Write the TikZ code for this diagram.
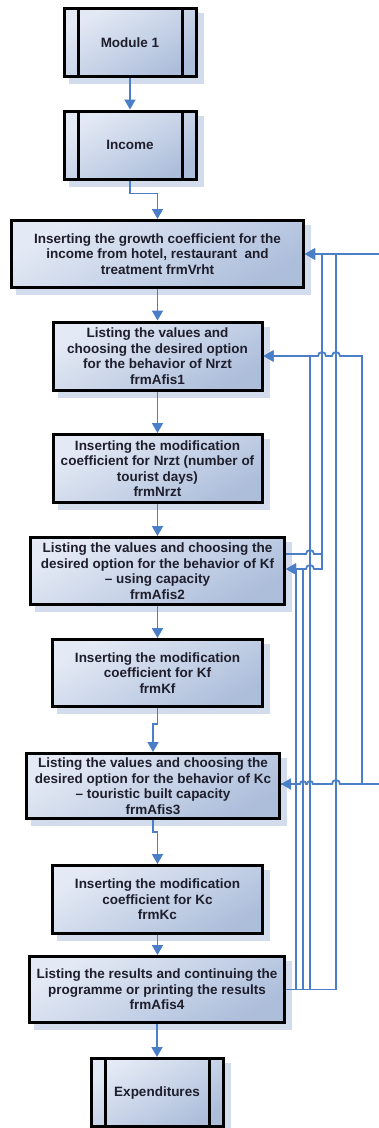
\documentclass[tikz,border=0pt]{standalone}
\usepackage{fontspec}
\setmainfont{Liberation Sans}
\usetikzlibrary{arrows.meta,backgrounds,calc}
\definecolor{lnc}{HTML}{4A7EC6}
\definecolor{shc}{HTML}{D3DCEC}
\definecolor{bxa}{HTML}{E4EAF5}
\definecolor{bxb}{HTML}{ADBEDB}
\definecolor{txc}{HTML}{1E1E2C}
\begin{document}
\begin{tikzpicture}[x=1pt,y=-1pt,
  stepbox/.style={draw=black, line width=3pt, top color=bxa, bottom color=bxb, shading angle=30,
    align=center, inner sep=0pt, text=txc, font=\fontsize{13.5}{15.5}\selectfont\bfseries},
  procbox/.style={stepbox, minimum width=132pt, minimum height=68pt,
    path picture={\draw[line width=3pt]
      ([xshift=14pt]path picture bounding box.north west) -- ([xshift=14pt]path picture bounding box.south west)
      ([xshift=-14pt]path picture bounding box.north east) -- ([xshift=-14pt]path picture bounding box.south east);}},
  shadowbox/.style={fill=shc},
  conn/.style={draw=lnc, line width=1.8pt},
  arr/.style={conn, -{Triangle[length=10pt,width=11pt]}}
]
\useasboundingbox (0,0) rectangle (379,1128);

\node[procbox] (m1) at (130,42.5) {Module 1};
\node[procbox] (inc) at (130,145) {Income};
\node[stepbox, minimum width=292pt, minimum height=67pt] (b3) at (157.5,254)
  {Inserting the growth coefficient for the\\income from hotel, restaurant~ and\\treatment frmVrht};
\node[stepbox, minimum width=209pt, minimum height=68pt] (b4) at (157.5,356)
  {Listing the values and\\choosing the desired option\\for the behavior of Nrzt\\frmAfis1};
\node[stepbox, minimum width=209pt, minimum height=68pt] (b5) at (157.5,468.5)
  {Inserting the modification\\coefficient for Nrzt (number of\\tourist days)\\frmNrzt};
\node[stepbox, minimum width=254pt, minimum height=67pt] (b6) at (157.5,571)
  {Listing the values and choosing the\\desired option for the behavior of Kf\\– using capacity\\frmAfis2};
\node[stepbox, minimum width=210pt, minimum height=67pt] (b7) at (157.5,673)
  {Inserting the modification\\coefficient for Kf\\frmKf};
\node[stepbox, minimum width=253pt, minimum height=65pt] (b8) at (153,786)
  {Listing the values and choosing the\\desired option for the behavior of Kc\\– touristic built capacity\\frmAfis3};
\node[stepbox, minimum width=210pt, minimum height=68pt] (b9) at (157.5,899.5)
  {Inserting the modification\\coefficient for Kc\\frmKc};
\node[stepbox, minimum width=255pt, minimum height=66pt] (b10) at (157,989.5)
  {Listing the results and continuing the\\programme or printing the results\\frmAfis4};
\node[procbox] (exp) at (157,1092.5) {Expenditures};

\begin{scope}[on background layer]
\foreach \n in {m1,inc,b3,b4,b5,b6,b7,b8,b9,b10,exp}
  \fill[shadowbox] ([shift={(6pt,-6pt)}]\n.south west) rectangle ([shift={(6pt,-6pt)}]\n.north east);
\end{scope}

% main flow
\draw[arr] (m1) -- (inc);
\draw[arr] (inc.south) -- ++(0,13) -| (b3.north);
\draw[arr] (b3.south) -- (b3.south |- b4.north);
\draw[arr] (b4.south) -- (b4.south |- b5.north);
\draw[arr] (b5.south) -- (b5.south |- b6.north);
\draw[arr] (b6.south) -- (b6.south |- b7.north);
\draw[arr] (b7.south) -- ++(0,16) -| (b8.north);
\draw[arr] (b8.south) -- ++(0,12) -| (b9.north);
\draw[arr] (b9.south) -- (b9.south |- b10.north);
\draw[arr] (b10.south) -- (b10.south |- exp.north);

% feedback connectors
\coordinate (j4) at (362,784);
\coordinate (j1) at (322,554);
\draw[arr] ([yshift=2pt]b8.east) -- (300,784) arc[start angle=180,end angle=0,radius=3pt]
  -- (307,784) arc[start angle=180,end angle=0,radius=3pt]
  -- (332,784) arc[start angle=180,end angle=0,radius=4pt]
  -- (382,784) -- (382,254) -- (b3.east);
\draw[arr] (j4) -- (362,356) -- (340,356) arc[start angle=0,end angle=180,radius=4pt]
  -- (326,356) arc[start angle=0,end angle=180,radius=4pt] -- (b4.east);
\draw[arr] ([yshift=17pt]b6.east) -- (306,554) arc[start angle=180,end angle=0,radius=4pt]
  -- (j1) -- (322,254) -- (b3.east);
\draw[arr] (j1) -- (322,569) -- (314,569) arc[start angle=0,end angle=180,radius=4pt]
  -- ([yshift=2pt]b6.east);
\draw[arr] (b10.east) -| (336,254) -- (b3.east);
\draw[arr] (b10.east) -| (310,356) -- (b4.east);
\draw[arr] (b10.east) -| (303,569) -- ([yshift=2pt]b6.east);
\draw[arr] (b10.east) -| (296,784) -- ([yshift=2pt]b8.east);
\draw[conn] (296,784) -- (296,569);
\end{tikzpicture}
\end{document}
